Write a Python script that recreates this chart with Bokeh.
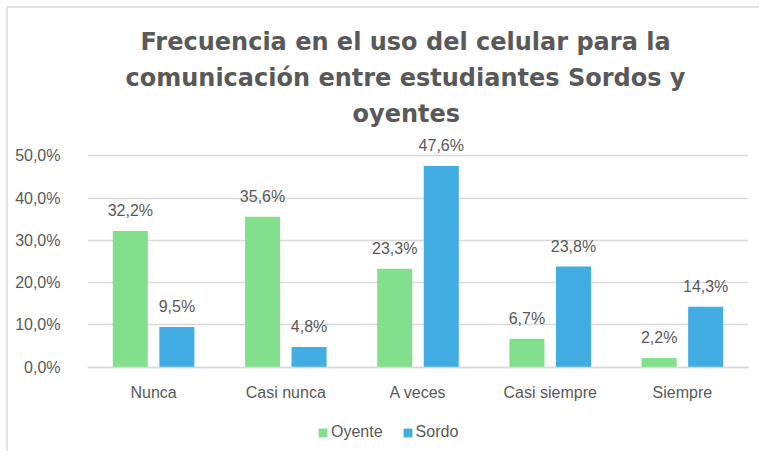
from bokeh.plotting import figure
from bokeh.models import ColumnDataSource, FixedTicker, Legend, LegendItem, Title
from bokeh.transform import dodge
from bokeh.core.properties import value
from bokeh.embed import file_html
from bokeh.resources import INLINE

categories = ["Nunca", "Casi nunca", "A veces", "Casi siempre", "Siempre"]
oyente = [32.2, 35.6, 23.3, 6.7, 2.2]
sordo = [9.5, 4.8, 47.6, 23.8, 14.3]
y_ticks = [0, 10, 20, 30, 40, 50]
y_tick_labels = ["0,0%", "10,0%", "20,0%", "30,0%", "40,0%", "50,0%"]
title_lines = ["Frecuencia en el uso del celular para la",
               "comunicación entre estudiantes Sordos y",
               "oyentes"]
title_offsets = [53, 38, 265]

FONT = "Liberation Sans"
TFONT = "DejaVu Sans"
TXT = "#595959"
GREEN = "#82E08C"
BLUE = "#42ADE2"

def fmt(v):
    return f"{v:.1f}".replace(".", ",") + "%"

src = ColumnDataSource(dict(
    cat=categories, oyente=oyente, sordo=sordo,
    oy_lbl=[fmt(v) for v in oyente], so_lbl=[fmt(v) for v in sordo],
))

p = figure(x_range=categories, y_range=(-19, 56), width=753, height=445,
           output_backend="svg", toolbar_location=None,
           min_border_left=79, min_border_right=13,
           min_border_top=122, min_border_bottom=6)
p.outline_line_color = None
p.background_fill_color = "white"
p.border_fill_color = "white"
p.styles = {"border-left": "2px solid #e4e4e4", "border-top": "2px solid #e4e4e4",
            "margin-left": "6px", "margin-top": "6px"}

r1 = p.vbar(x=dodge("cat", -0.176, range=p.x_range), top="oyente", width=0.265,
            source=src, color=GREEN, line_color=None)
r2 = p.vbar(x=dodge("cat", 0.176, range=p.x_range), top="sordo", width=0.265,
            source=src, color=BLUE, line_color=None)

for col, lbl, off in (("oyente", "oy_lbl", -0.176), ("sordo", "so_lbl", 0.176)):
    p.text(x=dodge("cat", off, range=p.x_range), y=col, text=lbl, source=src,
           text_align="center", text_baseline="bottom", y_offset=-12,
           text_font=value(FONT), text_font_size="16px", text_color=TXT)

p.yaxis.ticker = FixedTicker(ticks=y_ticks)
p.yaxis.major_label_overrides = {t: l for t, l in zip(y_ticks, y_tick_labels)}
p.yaxis.axis_line_color = None
p.yaxis.major_tick_line_color = None
p.yaxis.minor_tick_line_color = None
p.yaxis.major_label_standoff = 21
p.yaxis.major_label_text_font = FONT
p.yaxis.major_label_text_font_size = "16px"
p.yaxis.major_label_text_color = TXT

p.xaxis.fixed_location = 0
p.xaxis.axis_line_color = "#d9d9d9"
p.xaxis.axis_line_width = 1.5
p.xaxis.major_tick_line_color = None
p.xaxis.minor_tick_line_color = None
p.xaxis.major_label_standoff = 11
p.xaxis.major_label_text_font = FONT
p.xaxis.major_label_text_font_size = "16px"
p.xaxis.major_label_text_color = TXT

p.xgrid.grid_line_color = None
p.ygrid.grid_line_color = "#d9d9d9"
p.ygrid.grid_line_width = 1.5

legend = Legend(items=[LegendItem(label="Oyente", renderers=[r1]),
                       LegendItem(label="Sordo", renderers=[r2])],
                orientation="horizontal", location=(230, 6),
                glyph_width=11, glyph_height=11, spacing=19, padding=4,
                label_standoff=3, border_line_color=None, background_fill_alpha=0,
                label_text_font=FONT, label_text_font_size="16px",
                label_text_color=TXT)
p.add_layout(legend, "center")

for line, off in reversed(list(zip(title_lines, title_offsets))):
    p.add_layout(Title(text=line, align="left", offset=off, standoff=6,
                       text_font=TFONT, text_font_style="bold", text_font_size="24px",
                       text_color=TXT), "above")

open("out.html", "w").write(file_html(p, INLINE))
